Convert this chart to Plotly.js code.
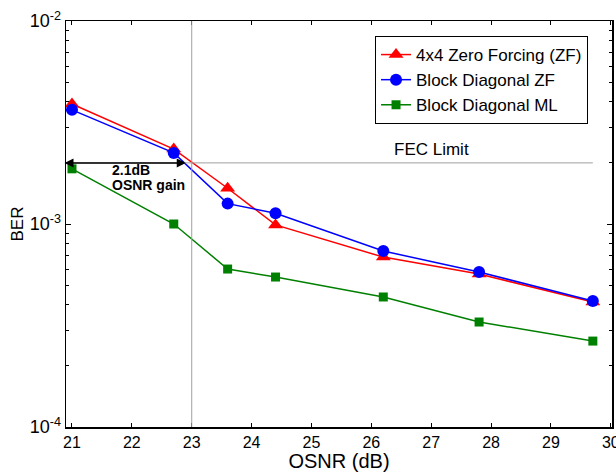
<!DOCTYPE html>
<html>
<head>
<meta charset="utf-8">
<script src="https://cdn.plot.ly/plotly-3.0.1.min.js"></script>
<style>html,body{margin:0;padding:0;background:#fff;}#chart{width:616px;height:472px;}</style>
</head>
<body>
<div id="chart"></div>
<script>
const osnr = [21, 22.7, 23.6, 24.4, 26.2, 27.8, 29.7];
const berZF = [3.90e-3, 2.34e-3, 1.50e-3, 0.99e-3, 6.87e-4, 5.67e-4, 4.13e-4];
const berBDZF = [3.65e-3, 2.24e-3, 1.26e-3, 1.13e-3, 7.36e-4, 5.80e-4, 4.18e-4];
const berBDML = [1.87e-3, 1.00e-3, 6.00e-4, 5.48e-4, 4.37e-4, 3.29e-4, 2.65e-4];
const seriesNames = ['4x4 Zero Forcing (ZF)', 'Block Diagonal ZF', 'Block Diagonal ML'];
const fecLimit = 2e-3;
const fecX = [21, 29.7];
const gainX = [20.85, 22.9];
const xTicks = [21, 22, 23, 24, 25, 26, 27, 28, 29, 30];
const yTicks = [1e-4, 1e-3, 1e-2];
const yTickText = ['10<sup>-4</sup>', '10<sup>-3</sup>', '10<sup>-2</sup>'];
const yMinor = [2e-4,3e-4,4e-4,5e-4,6e-4,7e-4,8e-4,9e-4,2e-3,3e-3,4e-3,5e-3,6e-3,7e-3,8e-3,9e-3];

const traces = [
  {x: osnr, y: berZF, name: seriesNames[0], mode: 'lines+markers',
   line: {color: '#ff0000', width: 1.5}, marker: {symbol: 'triangle-up', size: 13, color: '#ff0000'}},
  {x: osnr, y: berBDZF, name: seriesNames[1], mode: 'lines+markers',
   line: {color: '#0000ff', width: 1.5}, marker: {symbol: 'circle', size: 12, color: '#0000ff'}},
  {x: osnr, y: berBDML, name: seriesNames[2], mode: 'lines+markers',
   line: {color: '#008000', width: 1.5}, marker: {symbol: 'square', size: 9, color: '#008000'}}
];

const layout = {
  width: 616, height: 472,
  margin: {l: 66, r: 4, t: 21, b: 45},
  paper_bgcolor: '#fff', plot_bgcolor: '#fff',
  font: {family: 'Liberation Sans, Arial, sans-serif', color: '#000'},
  showlegend: true,
  legend: {x: 0.566, y: 0.963, xanchor: 'left', yanchor: 'top', bgcolor: '#fff',
           bordercolor: '#000', borderwidth: 1, font: {size: 17, color: '#000'},
           tracegroupgap: 0, itemwidth: 30},
  xaxis: {range: [20.9, 30.02], tickvals: xTicks, ticks: 'inside', ticklen: 4, tickcolor: '#000',
          showline: true, linecolor: '#000', linewidth: 1.5, mirror: 'ticks', showgrid: false, zeroline: false,
          automargin: false, ticklabeloverflow: 'allow', tickfont: {size: 16},
          title: {text: 'OSNR (dB)', font: {size: 20}, standoff: 2}},
  yaxis: {type: 'log', range: [-4, -2], tickvals: yTicks, ticktext: yTickText, ticks: 'inside', ticklen: 5,
          tickcolor: '#000', showline: true, linecolor: '#000', linewidth: 1.5, mirror: 'ticks',
          showgrid: false, zeroline: false, automargin: false, tickfont: {size: 18},
          minor: {tickvals: yMinor, ticks: 'inside', ticklen: 3, tickcolor: '#000', showgrid: false},
          title: {text: 'BER', font: {size: 17}, standoff: 1}},
  shapes: [
    {type: 'line', xref: 'x', yref: 'paper', x0: 23, x1: 23, y0: 0, y1: 1, line: {color: '#a0a0a0', width: 1}},
    {type: 'line', xref: 'x', yref: 'y', x0: fecX[0], x1: fecX[1], y0: fecLimit, y1: fecLimit, line: {color: '#a0a0a0', width: 1}}
  ],
  annotations: [
    {x: gainX[1], y: Math.log10(fecLimit), ax: gainX[0], ay: Math.log10(fecLimit), xref: 'x', yref: 'y', axref: 'x', ayref: 'y',
     text: '', showarrow: true, arrowhead: 2, arrowside: 'end+start', arrowsize: 1.2, arrowwidth: 1.5, arrowcolor: '#000'},
    {x: 21.64, y: Math.log10(1.85e-3), xref: 'x', yref: 'y', xanchor: 'left', yanchor: 'middle', showarrow: false,
     text: '<b>2.1dB</b>', font: {size: 14, color: '#000'}},
    {x: 21.64, y: Math.log10(1.56e-3), xref: 'x', yref: 'y', xanchor: 'left', yanchor: 'middle', showarrow: false,
     text: '<b>OSNR gain</b>', font: {size: 14, color: '#000'}},
    {x: 27.0, y: Math.log10(2.33e-3), xref: 'x', yref: 'y', xanchor: 'center', yanchor: 'middle', showarrow: false,
     text: 'FEC Limit', font: {size: 17, color: '#000'}}
  ]
};

Plotly.newPlot('chart', traces, layout, {displayModeBar: false, staticPlot: true});
</script>
</body>
</html>
